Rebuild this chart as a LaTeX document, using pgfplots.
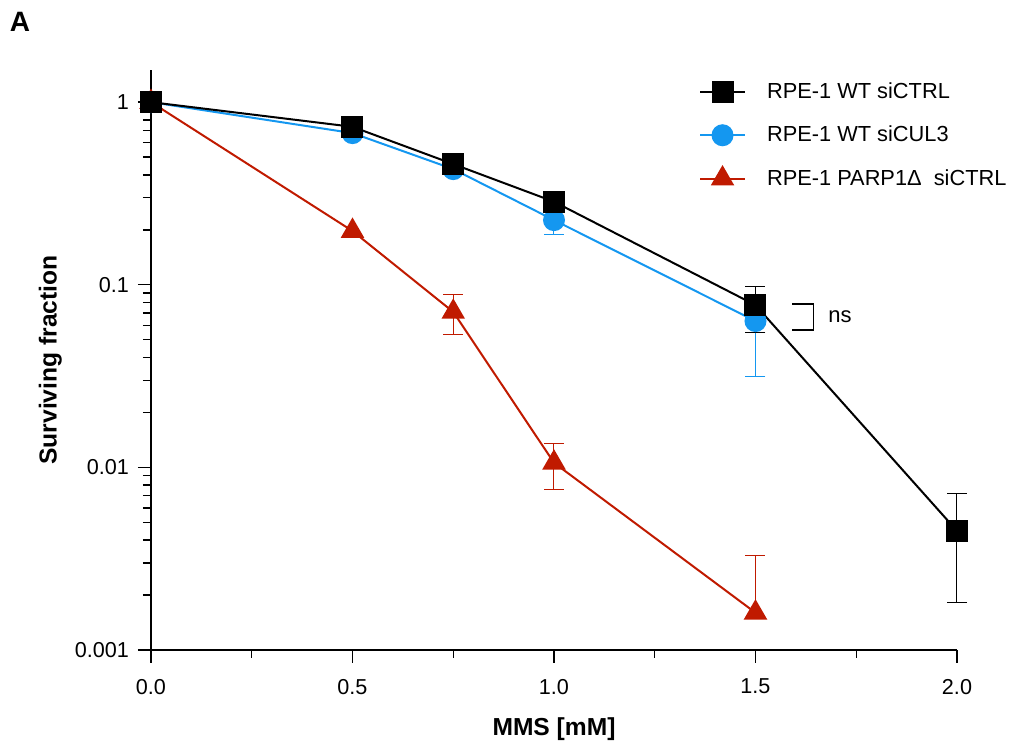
\documentclass[border=0pt]{standalone}
\usepackage{fontspec}
\setmainfont{Liberation Sans}
\usepackage{pgfplots}
\pgfplotsset{compat=1.18}
\definecolor{ctrlblue}{HTML}{1497F0}
\definecolor{parpred}{HTML}{C01A00}
\begin{document}
\begin{tikzpicture}
\useasboundingbox (-75.5pt,-47.5pt) rectangle (429pt,325pt);
\begin{axis}[
  at={(0,0)}, anchor=south west,
  scale only axis, width=403pt, height=290pt,
  xmin=0, xmax=2, ymode=log, ymin=0.001, ymax=1.5,
  axis lines=left, axis line style={-, line width=0.7pt},
  tick align=outside, tick style={black, line width=0.7pt},
  major tick length=6.5pt, minor tick length=4pt,
  xtick={0,0.5,1,1.5,2}, minor xtick={0.25,0.75,1.25,1.75},
  xticklabel style={yshift=-4.5pt, /pgf/number format/.cd, fixed, fixed zerofill, precision=1},
  ytick={0.001,0.01,0.1,1}, yticklabels={0.001,0.01,0.1,1},
  yticklabel style={xshift=-1pt},
  minor ytick={0.002,0.003,0.004,0.005,0.006,0.007,0.008,0.009,
    0.02,0.03,0.04,0.05,0.06,0.07,0.08,0.09,
    0.2,0.3,0.4,0.5,0.6,0.7,0.8,0.9},
  /pgf/number format/assume math mode=true,
  tick label style={font=\fontsize{10.8}{13}\selectfont},
  xlabel={\textbf{MMS [mM]}},
  ylabel={\textbf{Surviving fraction}},
  label style={font=\fontsize{12.3}{14}\selectfont},
  xlabel style={at={(axis description cs:0.5,-0.137)}, anchor=center},
  ylabel style={at={(axis description cs:-0.125,0.5)}, anchor=center},
  reverse legend,
  legend style={at={(rel axis cs:0.672,0.993)}, anchor=north west,
    draw=none, fill=none, font=\fontsize{10.9}{13}\selectfont, row sep=8.3pt},
  legend cell align=left,
  legend image code/.code={%
    \draw[mark repeat=2, mark phase=2] plot coordinates {(0pt,0pt) (11.25pt,0pt) (22.5pt,0pt)};
    \path (31pt,0pt);},
  clip=false,
]
% RPE-1 PARP1 delta siCTRL
\addplot[parpred, line width=1pt, mark=triangle*, mark size=5.8pt,
  error bars/.cd, y dir=both, y explicit,
  error bar style={line width=0.5pt, parpred},
  error mark options={rotate=90, mark size=5pt, line width=0.5pt, parpred}]
  coordinates {
  (0,1)
  (0.5,0.197)
  (0.75,0.071) += (0,0.018) -= (0,0.0173)
  (1.0,0.0106) += (0,0.0030) -= (0,0.0030)
  (1.5,0.0016) += (0,0.0017) -= (0,0.0001)
};
\addlegendentry{RPE-1 PARP1Δ\ \ siCTRL}
% RPE-1 WT siCUL3
\addplot[ctrlblue, line width=1pt, mark=*, mark size=5pt,
  error bars/.cd, y dir=both, y explicit,
  error bar style={line width=0.5pt, ctrlblue},
  error mark options={rotate=90, mark size=5pt, line width=0.5pt, ctrlblue}]
  coordinates {
  (0,1)
  (0.5,0.677)
  (0.75,0.43)
  (1.0,0.226) += (0,0.037) -= (0,0.037)
  (1.5,0.0633) += (0,0.035) -= (0,0.032)
};
\addlegendentry{RPE-1 WT siCUL3}
% RPE-1 WT siCTRL
\addplot[black, line width=1pt, mark=square*, mark size=5pt,
  error bars/.cd, y dir=both, y explicit,
  error bar style={line width=0.5pt, black},
  error mark options={rotate=90, mark size=5pt, line width=0.5pt, black}]
  coordinates {
  (0,1)
  (0.5,0.733)
  (0.75,0.458)
  (1.0,0.285)
  (1.5,0.0774) += (0,0.0206) -= (0,0.0224)
  (2.0,0.00449) += (0,0.00275) -= (0,0.00268)
};
\addlegendentry{RPE-1 WT siCTRL}
% ns bracket
\draw[black, line width=0.6pt] (axis cs:1.591,0.0784) -- (axis cs:1.643,0.0784)
  -- (axis cs:1.643,0.0565) -- (axis cs:1.591,0.0565);
\node[anchor=west, font=\fontsize{11}{13}\selectfont, inner sep=0pt]
  at (axis cs:1.68,0.0665) {ns};
\end{axis}
\node[font=\fontsize{14}{16}\selectfont\bfseries] at (-65.5pt,314pt) {A};
\end{tikzpicture}
\end{document}
